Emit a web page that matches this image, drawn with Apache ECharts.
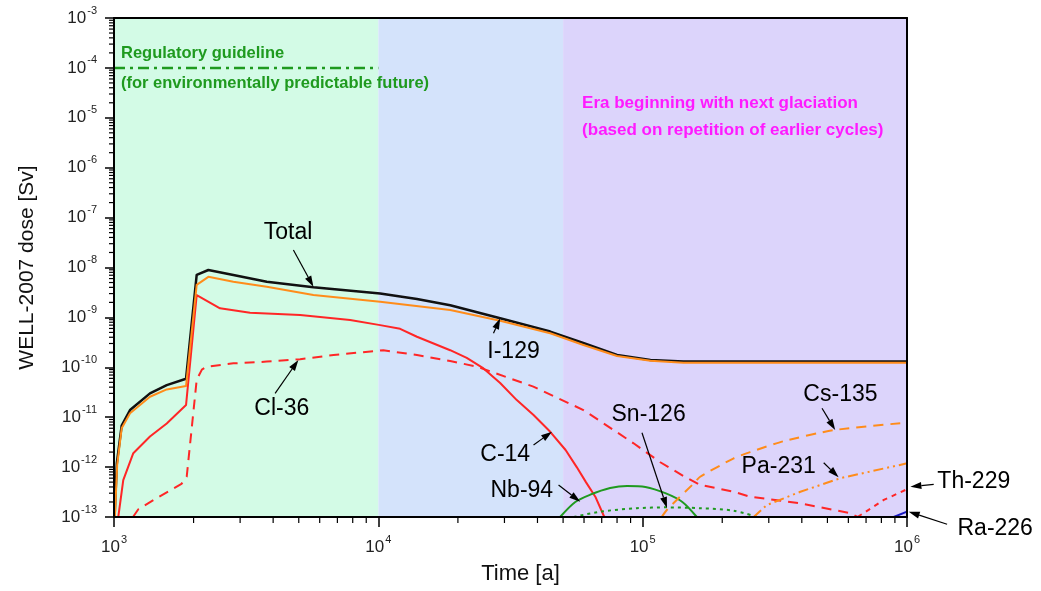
<!DOCTYPE html>
<html>
<head>
<meta charset="utf-8">
<script src="https://cdn.jsdelivr.net/npm/echarts@6/dist/echarts.min.js"></script>
<style>
  html, body { margin: 0; padding: 0; background: #ffffff; }
  #chart { width: 1041px; height: 591px; }
</style>
</head>
<body>
<div id="chart"></div>
<script>
// Axis decades (exponents of 10) used for the tick labels
const xTickExponents = [3, 4, 5, 6];
const yTickExponents = [-13, -12, -11, -10, -9, -8, -7, -6, -5, -4, -3];

// Time spans of the three climate eras [a]
const eraBounds = [1e3, 1e4, 5e4, 1e6];

// Dose curves: [time in years, dose in Sv]
const total = [
  [1005, 1e-13], [1025, 1.2e-12], [1069, 6.8e-12], [1150, 1.39e-11], [1368, 3.0e-11],
  [1583, 4.4e-11], [1873, 5.9e-11], [2055, 7.1e-9], [2275, 8.9e-9], [2828, 7.1e-9],
  [3784, 5.2e-9], [5680, 4.0e-9], [10160, 3.0e-9], [14000, 2.34e-9], [18700, 1.75e-9],
  [28900, 9.6e-10], [44700, 5.2e-10], [59600, 3.07e-10], [80000, 1.76e-10],
  [107000, 1.40e-10], [142700, 1.30e-10], [1000000, 1.30e-10]
];
const i129 = [
  [1008, 1e-13], [1028, 1.1e-12], [1069, 6.0e-12], [1150, 1.2e-11], [1368, 2.57e-11],
  [1583, 3.6e-11], [1873, 4.2e-11], [2055, 4.5e-9], [2275, 6.5e-9], [2828, 5.2e-9],
  [3784, 4.1e-9], [5680, 2.8e-9], [10160, 2.07e-9], [18700, 1.41e-9], [28900, 8.6e-10],
  [44700, 4.8e-10], [59700, 2.8e-10], [80000, 1.68e-10], [107000, 1.35e-10],
  [142700, 1.24e-10], [1000000, 1.24e-10]
];
const c14 = [
  [1038, 1e-13], [1084, 5.5e-13], [1183, 1.9e-12], [1368, 4.1e-12], [1583, 7.5e-12],
  [1873, 1.75e-11], [2055, 2.8e-9], [2518, 1.52e-9], [3271, 1.24e-9], [5060, 1.12e-9],
  [7820, 8.9e-10], [10160, 7.0e-10], [12090, 5.9e-10], [14000, 4.1e-10], [18700, 2.2e-10],
  [21600, 1.54e-10], [25000, 9.5e-11], [28900, 4.85e-11], [33400, 2.2e-11],
  [38650, 1.11e-11], [44700, 5.1e-12], [51100, 2.2e-12], [56300, 1.0e-12],
  [61000, 5.0e-13], [66200, 2.55e-13], [71600, 1e-13]
];
const cl36 = [
  [1180, 1e-13], [1236, 1.43e-13], [1451, 2.4e-13], [1800, 4.6e-13], [1884, 6.4e-13],
  [2055, 5.6e-11], [2150, 9.0e-11], [2244, 1.03e-10], [2828, 1.2e-10], [3784, 1.3e-10],
  [5060, 1.45e-10], [6770, 1.76e-10], [10440, 2.2e-10], [14000, 1.76e-10],
  [18700, 1.34e-10], [23600, 1.03e-10], [38600, 4.1e-11], [59700, 1.39e-11],
  [92400, 3.0e-12], [116600, 1.25e-12], [142900, 6.6e-13], [165000, 4.4e-13],
  [221000, 3.2e-13], [255000, 2.55e-13], [395000, 1.88e-13], [611000, 1.19e-13],
  [650000, 1e-13]
];
const nb94 = [
  [48700, 1e-13], [55600, 2.0e-13], [63340, 2.8e-13], [75300, 3.8e-13], [87300, 4.2e-13],
  [102400, 4.0e-13], [121800, 3.0e-13], [141300, 2.0e-13], [160300, 1e-13]
];
const sn126 = [
  [54800, 1e-13], [69200, 1.28e-13], [95000, 1.5e-13], [123600, 1.56e-13],
  [165000, 1.5e-13], [221000, 1.34e-13], [271000, 1e-13]
];
const cs135 = [
  [118000, 1e-13], [123600, 1.4e-13], [156000, 4.7e-13], [165000, 6.4e-13],
  [221000, 1.5e-12], [255000, 2.0e-12], [341000, 3.3e-12], [527000, 5.5e-12],
  [1000000, 7.8e-12]
];
const pa231 = [
  [263000, 1e-13], [295000, 1.74e-13], [395000, 3.2e-13], [560000, 6.0e-13],
  [1000000, 1.19e-12]
];
const th229 = [[650000, 1e-13], [817000, 2.2e-13], [1000000, 3.6e-13]];
const ra226 = [[891000, 1e-13], [1000000, 1.28e-13]];
const guideline = [[1000, 1e-4], [10000, 1e-4]];

// Curve labels: text anchor, arrow tail, arrow head (all as [time, dose])
const curveLabels = ['Total', 'Cl-36', 'I-129', 'C-14', 'Nb-94', 'Sn-126', 'Cs-135', 'Pa-231', 'Th-229', 'Ra-226'];
const curveLabelPoints = [
  [4556, 4.97e-8, 4772, 2.24e-8, 5680, 4.12e-9],
  [4313, 1.51e-11, 4069, 3.01e-11, 4984, 1.40e-10],
  [32460, 2.06e-10, 27270, 4.8e-10, 28910, 9.6e-10],
  [30200, 1.75e-12, 38650, 2.77e-12, 45400, 5.12e-12],
  [34900, 3.37e-13, 48060, 4.38e-13, 58040, 2.03e-13],
  [105300, 1.11e-11, 99400, 4.89e-12, 123600, 1.52e-13],
  [560000, 2.79e-11, 477000, 1.51e-11, 535000, 5.54e-12],
  [327000, 1.02e-12, 484000, 1.22e-12, 551000, 6.25e-13],
  [1789000, 5.1e-13, 1262000, 4.52e-13, 1030000, 4.05e-13],
  [2156000, 5.94e-14, 1418000, 7.14e-14, 1015000, 1.28e-13]
];

// Free-standing notes: [time, dose] of the left end of each text line
const noteTexts = [
  'Regulatory guideline',
  '(for environmentally predictable future)',
  'Era beginning with next glaciation',
  '(based on repetition of earlier cycles)'
];
const notePoints = [[1063, 1.99e-4], [1063, 4.98e-5], [59000, 1.98e-5], [59000, 5.7e-6]];

const FONT = '"Liberation Sans", Arial, Helvetica, sans-serif';
const X_MIN = 1e3, X_MAX = 1e6, Y_MIN = 1e-13, Y_MAX = 1e-3;

const C_BLACK = '#111111', C_ORANGE = '#ff8c1a', C_RED = '#ff2626',
      C_GREEN = '#1f9a1f', C_BLUE = '#1818c0', C_MAGENTA = '#ff1aff';
const noteColors = [C_GREEN, C_GREEN, C_MAGENTA, C_MAGENTA];
const noteFonts = ['bold 16.5px ', 'bold 16.5px ', 'bold 17px ', 'bold 17px '];

// Minor tick values at 2..9 x 10^k inside each decade
const xMinor = [];
for (let e = 3; e < 6; e++) for (let m = 2; m <= 9; m++) xMinor.push([m * Math.pow(10, e), Y_MIN]);
const yMinor = [];
for (let e = -13; e < -3; e++) for (let m = 2; m <= 9; m++) yMinor.push([X_MIN, m * Math.pow(10, e)]);

function expLabel(list) {
  return function (v) {
    const e = Math.round(Math.log10(v));
    return list.indexOf(e) >= 0 ? '{b|10}{s|' + e + '}' : '';
  };
}
const labelRich = {
  b: { fontSize: 17, fontFamily: FONT, color: '#222', lineHeight: 26 },
  s: { fontSize: 11, fontFamily: FONT, color: '#222', lineHeight: 10, verticalAlign: 'top', padding: [0, 0, 0, 1] }
};

function line(name, data, color, width, type, z, smooth) {
  return {
    name: name, type: 'line', data: data, showSymbol: false, symbol: 'none',
    silent: true, z: z || 3, smooth: smooth || false,
    lineStyle: { color: color, width: width, type: type || 'solid', cap: 'butt', join: 'round' }
  };
}

const chart = echarts.init(document.getElementById('chart'), null, { renderer: 'canvas' });

chart.setOption({
  animation: false,
  backgroundColor: '#ffffff',
  grid: { left: 114, right: 134, top: 18, bottom: 74, containLabel: false },
  xAxis: [{
    type: 'log', logBase: 10, min: X_MIN, max: X_MAX, splitNumber: 3, z: 6,
    name: 'Time [a]', nameLocation: 'middle', nameGap: 46,
    nameTextStyle: { fontSize: 22, fontFamily: FONT, color: '#111', padding: [0, 0, 0, 20] },
    axisLine: { show: true, onZero: false, lineStyle: { color: '#000', width: 2 } },
    axisTick: { show: true, inside: false, length: 10, lineStyle: { color: '#000', width: 1.5 } },
    axisLabel: { margin: 17, formatter: expLabel(xTickExponents), rich: labelRich },
    splitLine: { show: false }
  }, {
    type: 'log', logBase: 10, min: X_MIN, max: X_MAX, position: 'top', z: 6,
    axisLine: { show: true, onZero: false, lineStyle: { color: '#000', width: 2 } },
    axisTick: { show: false }, axisLabel: { show: false }, splitLine: { show: false }
  }],
  yAxis: [{
    type: 'log', logBase: 10, min: Y_MIN, max: Y_MAX, splitNumber: 10, z: 6,
    name: 'WELL-2007 dose [Sv]', nameLocation: 'middle', nameGap: 76, nameRotate: 90,
    nameTextStyle: { fontSize: 21, fontFamily: FONT, color: '#111' },
    axisLine: { show: true, onZero: false, lineStyle: { color: '#000', width: 2 } },
    axisTick: { show: true, inside: false, length: 9, lineStyle: { color: '#000', width: 1.5 } },
    axisLabel: { margin: 17, formatter: expLabel(yTickExponents), rich: labelRich },
    splitLine: { show: false }
  }, {
    type: 'log', logBase: 10, min: Y_MIN, max: Y_MAX, position: 'right', z: 6,
    axisLine: { show: true, onZero: false, lineStyle: { color: '#000', width: 2 } },
    axisTick: { show: false }, axisLabel: { show: false }, splitLine: { show: false }
  }],
  series: [
    // Climate era background bands
    {
      type: 'line', data: [], silent: true, z: 0,
      markArea: {
        silent: true,
        data: [
          [{ xAxis: eraBounds[0], itemStyle: { color: '#d3fbe6' } }, { xAxis: eraBounds[1] }],
          [{ xAxis: eraBounds[1], itemStyle: { color: '#d4e3fb' } }, { xAxis: eraBounds[2] }],
          [{ xAxis: eraBounds[2], itemStyle: { color: '#dcd4fb' } }, { xAxis: eraBounds[3] }]
        ]
      }
    },
    line('Regulatory guideline', guideline, C_GREEN, 2.5, [11, 5, 3, 5], 3),
    line('Cl-36', cl36, C_RED, 2, [10, 7], 3),
    line('C-14', c14, C_RED, 2, 'solid', 3),
    line('Nb-94', nb94, C_GREEN, 2, 'solid', 3, 0.3),
    line('Sn-126', sn126, C_GREEN, 2, [3, 4], 3, 0.3),
    line('Cs-135', cs135, C_ORANGE, 2, [10, 7], 3, 0.2),
    line('Pa-231', pa231, C_ORANGE, 2, [10, 4, 2, 4, 2, 4], 3),
    line('Th-229', th229, C_RED, 2, [5, 5], 3),
    line('Ra-226', ra226, C_BLUE, 2, 'solid', 3),
    line('Total', total, C_BLACK, 2.5, 'solid', 4),
    line('I-129', i129, C_ORANGE, 2, 'solid', 5),
    // Minor ticks on the time axis
    {
      type: 'custom', data: xMinor, silent: true, z: 7, clip: false,
      encode: { x: 0, y: 1 },
      renderItem: function (params, api) {
        const p = api.coord([api.value(0), api.value(1)]);
        return { type: 'line', shape: { x1: p[0], y1: p[1], x2: p[0], y2: p[1] + 6 },
                 style: { stroke: '#000', lineWidth: 1.2 } };
      }
    },
    // Minor ticks on the dose axis
    {
      type: 'custom', data: yMinor, silent: true, z: 7, clip: false,
      encode: { x: 0, y: 1 },
      renderItem: function (params, api) {
        const p = api.coord([api.value(0), api.value(1)]);
        return { type: 'line', shape: { x1: p[0] - 5, y1: p[1], x2: p[0], y2: p[1] },
                 style: { stroke: '#000', lineWidth: 1.2 } };
      }
    },
    // Curve names with arrows pointing to their curves
    {
      type: 'custom', data: curveLabelPoints, silent: true, z: 8, clip: false,
      encode: { x: [0, 2, 4], y: [1, 3, 5] },
      renderItem: function (params, api) {
        const t = api.coord([api.value(0), api.value(1)]);
        const a = api.coord([api.value(2), api.value(3)]);
        const b = api.coord([api.value(4), api.value(5)]);
        const ang = Math.atan2(b[1] - a[1], b[0] - a[0]);
        const c = Math.cos(ang), s = Math.sin(ang);
        const L = 11, W = 3.5;
        const base = [b[0] - L * c, b[1] - L * s];
        return {
          type: 'group',
          children: [
            { type: 'line', shape: { x1: a[0], y1: a[1], x2: base[0], y2: base[1] },
              style: { stroke: '#000', lineWidth: 1.2 } },
            { type: 'polygon',
              shape: { points: [b, [base[0] + W * s, base[1] - W * c], [base[0] - W * s, base[1] + W * c]] },
              style: { fill: '#000' } },
            { type: 'text', x: t[0], y: t[1],
              style: { text: curveLabels[params.dataIndex], font: '23px ' + FONT, fill: '#000',
                       align: 'center', verticalAlign: 'middle' } }
          ]
        };
      }
    },
    // Explanatory notes
    {
      type: 'custom', data: notePoints, silent: true, z: 8, clip: false,
      encode: { x: 0, y: 1 },
      renderItem: function (params, api) {
        const p = api.coord([api.value(0), api.value(1)]);
        const i = params.dataIndex;
        return { type: 'text', x: p[0], y: p[1],
                 style: { text: noteTexts[i], font: noteFonts[i] + FONT,
                          fill: noteColors[i], align: 'left', verticalAlign: 'middle' } };
      }
    }
  ]
});
</script>
</body>
</html>
